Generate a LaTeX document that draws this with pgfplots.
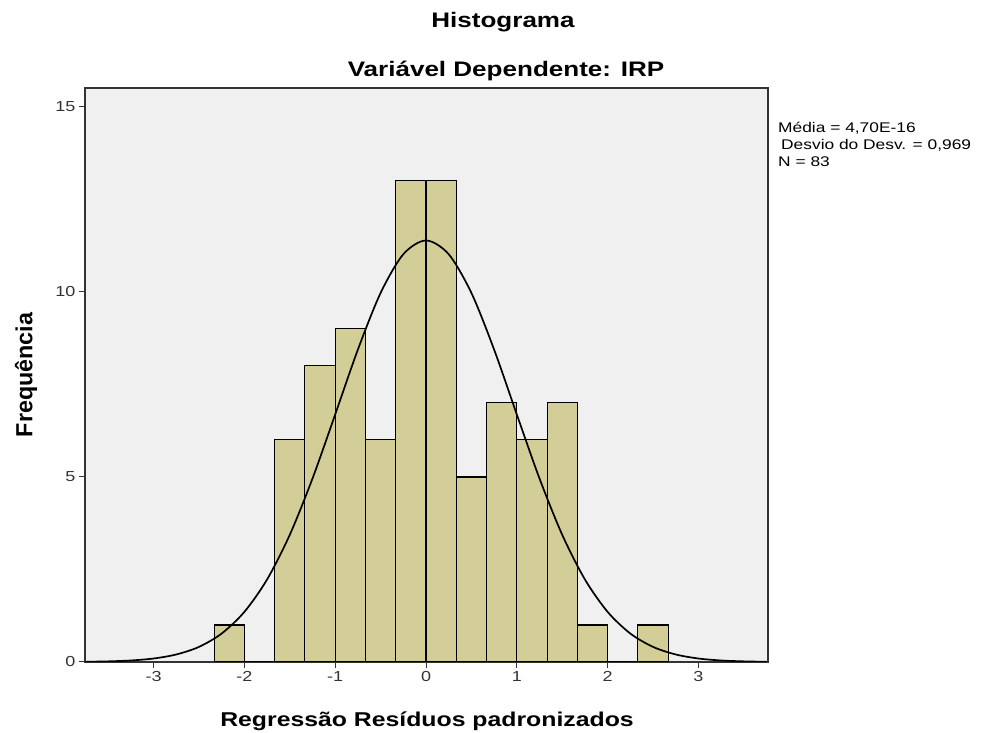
\documentclass[border=0pt]{standalone}
\usepackage{fontspec}
\setmainfont{Liberation Sans}[FakeStretch=1.24]
\usepackage{graphicx}
\usepackage{pgfplots}
\pgfplotsset{compat=1.18}
\definecolor{barfill}{HTML}{D3CE97}
\definecolor{plotbg}{HTML}{F0F0F0}
\definecolor{ticktxt}{HTML}{333333}
\begin{document}
\begin{tikzpicture}
\useasboundingbox (0pt,0pt) rectangle (986pt,733pt);
\begin{axis}[
  at={(85pt,71pt)}, anchor=south west,
  scale only axis, width=683pt, height=574pt,
  xmin=-3.755, xmax=3.766, ymin=0, ymax=15.51,
  axis background/.style={fill=plotbg},
  axis line style={line width=1.2pt, draw=black!80},
  xtick={-3,-2,-1,0,1,2,3},
  ytick={0,5,10,15},
  tick align=outside,
  major tick length=6pt,
  tick style={line width=1pt, black!80},
  xtick pos=bottom, ytick pos=left,
  /pgf/number format/assume math mode=true,
  ticklabel style={font=\fontsize{14.5}{16}\selectfont, text=ticktxt},
  clip=true,
]
\addplot[ybar interval, fill=barfill, draw=black, line width=1.1pt] coordinates {
(-2.3333,1) (-2,0) (-1.6667,6) (-1.3333,8) (-1,9) (-0.6667,6) (-0.3333,13)
(0,13) (0.3333,5) (0.6667,7) (1,6) (1.3333,7) (1.6667,1) (2,0) (2.3333,1) (2.6667,1)
};
\addplot[smooth, line width=1.7pt, black, no markers] coordinates {
(-3.75,0.006) (-3.5,0.017) (-3.25,0.041) (-3,0.094) (-2.75,0.203) (-2.5,0.408)
(-2.25,0.769) (-2,1.354) (-1.75,2.230) (-1.5,3.437) (-1.25,4.957) (-1,6.688)
(-0.75,8.442) (-0.5,9.971) (-0.25,11.018) (0,11.39) (0.25,11.018) (0.5,9.971)
(0.75,8.442) (1,6.688) (1.25,4.957) (1.5,3.437) (1.75,2.230) (2,1.354)
(2.25,0.769) (2.5,0.408) (2.75,0.203) (3,0.094) (3.25,0.041) (3.5,0.017) (3.75,0.006)
};
\end{axis}
\node[anchor=base, font=\bfseries\fontsize{21}{24}\selectfont] at (503pt,705pt) {Histograma};
\node[anchor=base, font=\bfseries\fontsize{21}{24}\selectfont] at (506pt,656pt) {Variável Dependente: IRP};
\node[anchor=base, font=\bfseries\fontsize{20}{24}\selectfont] at (427pt,6pt) {Regressão Resíduos padronizados};
\node at (26pt,358pt) {\rotatebox{90}{\scalebox{1}[1.24]{\bfseries\fontsize{18.8}{22}\selectfont Frequência}}};
\node[anchor=base west, font=\fontsize{14}{16}\selectfont, inner sep=0pt] at (778pt,600pt) {Média = 4,70E-16};
\node[anchor=base west, font=\fontsize{14}{16}\selectfont, inner sep=0pt] at (781pt,583pt) {Desvio do Desv. = 0,969};
\node[anchor=base west, font=\fontsize{14}{16}\selectfont, inner sep=0pt] at (778pt,566pt) {N = 83};
\end{tikzpicture}
\end{document}
